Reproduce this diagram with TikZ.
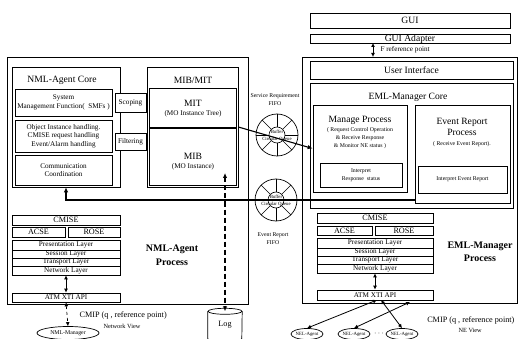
\documentclass[tikz,border=0pt]{standalone}
\usepackage{fontspec}
\setmainfont{Liberation Serif}
\usetikzlibrary{arrows.meta,shapes.geometric}

% rectangle given by its corners: [options]{name}{x1}{y1}{x2}{y2}{text}
\newcommand\rbox[7][]{%
  \node[blk,#1,minimum width={(#5-#3)*1pt},minimum height={(#6-#4)*1pt}]
    (#2) at ({(#3+#5)/2},{(#4+#6)/2}) {#7};}

% FIFO wheel: name, x, y
\newcommand\fifo[3]{%
  \node[draw,circle,line width=0.7pt,minimum size=42pt,inner sep=0pt] (#1) at (#2,#3) {};
  \draw[line width=0.6pt] (#1.center) circle[radius=8pt];
  \foreach \a in {0,45,...,315}
    \draw[line width=0.6pt] (#1.center) ++(\a:8pt) -- ++(\a:13pt);
  \node[ftiny] at ([yshift=3pt]#1.center) {Buffer};
  \node[ftiny] at ([yshift=-4pt]#1.center) {Circular Queue};}

\begin{document}
\begin{tikzpicture}[x=1pt,y=-1pt,
  blk/.style={draw,line width=0.7pt,inner sep=0pt,align=center,fill=white},
  frame/.style={line width=0.9pt},
  f9/.style={font=\fontsize{9.6}{11}\selectfont},
  f8/.style={font=\fontsize{8.2}{9.5}\selectfont},
  f7/.style={font=\fontsize{7.2}{8.4}\selectfont},
  fsmall/.style={font=\fontsize{5.8}{7.8}\selectfont},
  ftiny/.style={font=\fontsize{4.8}{5.4}\selectfont},
  fbold/.style={font=\fontsize{10}{13.5}\selectfont\bfseries,align=center},
  arr/.style={line width=1.1pt,-{Latex[length=5pt,width=4.5pt]}},
  darr/.style={line width=0.8pt,{Latex[length=4pt,width=4pt]}-{Latex[length=4pt,width=4pt]}},
]
\useasboundingbox (0,0) rectangle (519,339);

% ---------------- NML-Agent process ----------------
\rbox[frame]{nmlproc}{7}{57}{248}{304}{}
\rbox{nmlcore}{12}{67}{120}{187}{}
\node[f9] (nmlcoret) at (62,80) {NML-Agent Core};
\rbox[f7]{smf}{15}{89}{112}{116}{System\\Management Function(\ \ SMFs )}
\rbox[f7]{obj}{15}{120}{112}{152}{Object Instance handling.\\CMISE request handling\\Event/Alarm handling}
\rbox[f7]{comm}{15}{155}{112}{185}{Communication\\Coordination}
\rbox[f7]{scop}{115}{93}{146}{112}{Scoping}
\rbox[f7]{filt}{115}{133}{146}{150}{Filtering}

\rbox{mibmit}{147}{67}{238}{187}{}
\node[f9] (mibmitt) at (193,80) {MIB/MIT};
\rbox{mit}{149}{88}{236}{127}{}
\node[f9] (mitt) at (193,103) {MIT};
\node[f7] (mits) at (193,114) {(MO Instance Tree)};
\rbox{mib}{149}{128}{236}{185}{}
\node[f9] (mibt) at (193,156) {MIB};
\node[f7] (mibs) at (193,167) {(MO Instance)};

% protocol stack
\rbox[f8]{cmiseL}{12}{215}{120}{225}{CMISE}
\rbox[f8]{acseL}{12}{227}{65}{237}{ACSE}
\rbox[f8]{roseL}{68}{227}{120}{237}{ROSE}
\rbox[f7]{presL}{12}{240}{120}{250}{Presentation Layer}
\rbox[f7]{sessL}{12}{250}{120}{258}{Session Layer}
\rbox[f7]{tranL}{12}{258}{120}{266}{Transport Layer}
\rbox[f7]{netL}{12}{266}{120}{275}{Network Layer}
\rbox[f7]{atmL}{12}{293}{120}{302}{ATM XTI API}
\draw[darr] (netL.south) -- (atmL.north);

\node[fbold] (nmllbl) at (172,255) {NML-Agent\\Process};

\node[draw,ellipse,line width=0.7pt,minimum width=62pt,minimum height=13pt,inner sep=0pt,font=\fontsize{5.8}{6}\selectfont]
  (nmlmgr) at (68,333) {NML-Manager};
\draw[darr,dashed,line width=0.7pt] (atmL.south) -- (nmlmgr.north);
\node[f8,anchor=west] (cmipL) at (76,315) {CMIP (q , reference point)};
\node[font=\fontsize{6.3}{7}\selectfont,anchor=west] (nvL) at (100,326) {Network View};

% log store: an upright drum
\node[minimum width=34pt,minimum height=27pt,inner sep=0pt,f8] (log) at (225,325) {Log};
\draw[line width=0.7pt] (log.north west) -- (log.south west)
  arc[start angle=180,end angle=360,x radius=17pt,y radius=3pt] -- (log.north east);
\draw[line width=0.7pt] (log.north) ellipse[x radius=17pt,y radius=3pt];
\coordinate (mibtap) at (225,173);
\draw[line width=1.1pt,dash pattern=on 5pt off 3pt,
      {Latex[length=5pt,width=4.5pt]}-{Latex[length=5pt,width=4.5pt]}] (mibtap) -- (log.north);

% ---------------- EML-Manager process ----------------
\rbox[f9]{gui}{310}{13}{510}{28}{GUI}
\rbox[f9]{guiad}{310}{35}{510}{43}{GUI Adapter}
\rbox[frame]{emlproc}{302}{57}{517}{303}{}
\coordinate (fa) at (373,43);
\coordinate (fb) at (373,57);
\draw[darr] (fa) -- (fb);
\node[f7,anchor=west] (frp) at (377,50) {F reference point};

\rbox[f9]{ui}{310}{61}{513}{79}{User Interface}
\rbox{emlcore}{310}{83}{513}{208}{}
\node[f9] (emlcoret) at (408,97) {EML-Manager Core};

\rbox{mgp}{313}{105}{407}{192}{}
\node[f9] (mgpt) at (360,120) {Manage Process};
\node[fsmall,align=center] (mgps) at (360,138) {( Request Control Operation\\\& Receive Response\\\& Monitor NE status )};
\rbox[fsmall]{irs}{320}{163}{402}{187}{Interpret\\Response\ \ status}

\rbox{erp}{415}{105}{510}{203}{}
\node[f9,align=center] (erpt) at (462,127) {Event Report\\Process};
\node[fsmall] (erps) at (462,144) {( Receive Event Report).};
\rbox[fsmall]{ier}{418}{166}{507}{193}{Interpret Event Report}

% protocol stack
\rbox[f8]{cmiseR}{317}{213}{433}{223}{CMISE}
\rbox[f8]{acseR}{317}{226}{372}{235}{ACSE}
\rbox[f8]{roseR}{375}{226}{433}{235}{ROSE}
\rbox[f7]{presR}{317}{238}{433}{248}{Presentation Layer}
\rbox[f7]{sessR}{317}{248}{433}{256}{Session Layer}
\rbox[f7]{tranR}{317}{256}{433}{264}{Transport Layer}
\rbox[f7]{netR}{317}{264}{433}{273}{Network Layer}
\rbox[f7]{atmR}{317}{290}{433}{300}{ATM XTI API}
\draw[darr] (netR.south) -- (atmR.north);

\node[fbold] (emllbl) at (480,252) {EML-Manager\\Process};

\foreach \n/\x in {nelA/307,nelB/354,nelC/402}
  \node[draw,ellipse,line width=0.7pt,minimum width=32pt,minimum height=11pt,inner sep=0pt,ftiny] (\n) at (\x,334) {NEL-Agent};
\node[f8] (dots) at (379,334) {$\cdots$};
\coordinate (p1) at (377,300);
\coordinate (p2) at (381,300);
\coordinate (p3) at (410,302);
\draw[darr] (p1) -- (nelA.north);
\draw[darr] (p2) -- (nelC.north);
\draw[darr] (p3) -- (nelB.north);
\node[f8,anchor=east] (cmipR) at (518,320) {CMIP (q , reference point)};
\node[font=\fontsize{6.3}{7}\selectfont,anchor=west] (nvR) at (455,330) {NE View};

% ---------------- FIFO queues between the processes ----------------
\fifo{fifoA}{277}{135}
\fifo{fifoB}{276}{200}
\node[fsmall,align=center] (fifoAl) at (275,100) {Service Requirement\\FIFO};
\node[fsmall,align=center] (fifoBl) at (273,239) {Event Report\\FIFO};

\draw[arr] (mibmit.east) -- (mgp.west);
\coordinate (erout) at (erp.west |- fifoB.center);
\draw[arr] (erout) -| (nmlcore.south);
\end{tikzpicture}
\end{document}
